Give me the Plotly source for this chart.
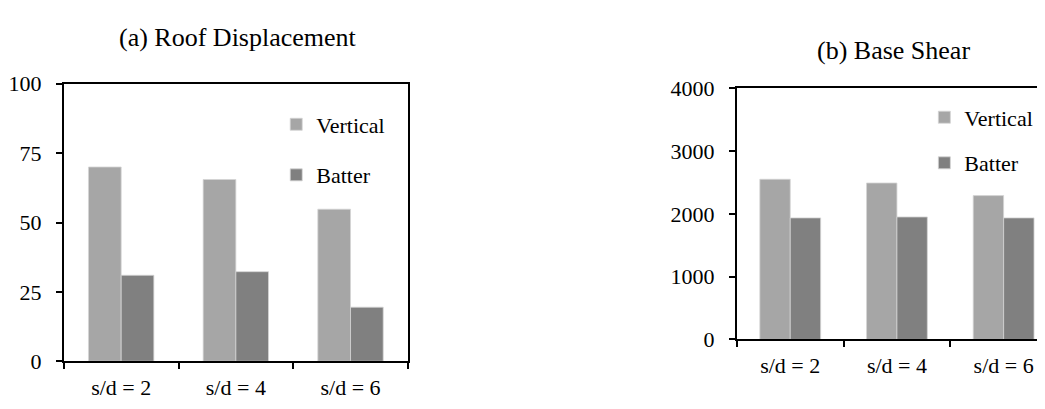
import plotly.graph_objects as go

categories = ["s/d = 2", "s/d = 4", "s/d = 6"]
roof_vertical = [70.0, 65.5, 54.8]
roof_batter = [31.0, 32.3, 19.5]
shear_vertical = [2550, 2490, 2290]
shear_batter = [1935, 1950, 1935]

series_names = ["Vertical", "Batter"]
colors = ["#a6a6a6", "#808080"]

# page body has an 8px default margin; size the figure so it fills the window exactly
OFF = 8
W, H = 1045 - OFF, 409 - OFF
FONT = "Times New Roman, Liberation Serif, serif"


def px_x(p):
    return (p - OFF) / W


def px_y(p):
    return 1 - (p - OFF) / H


fig = go.Figure()

for name, vals, col in zip(series_names, [roof_vertical, roof_batter], colors):
    fig.add_trace(go.Bar(x=categories, y=vals, name=name,
                         marker=dict(color=col, line=dict(color="#d4d4d4", width=0.8)),
                         xaxis="x", yaxis="y", legend="legend", legendgroup="a" + name))
for name, vals, col in zip(series_names, [shear_vertical, shear_batter], colors):
    fig.add_trace(go.Bar(x=categories, y=vals, name=name,
                         marker=dict(color=col, line=dict(color="#d4d4d4", width=0.8)),
                         xaxis="x2", yaxis="y2", legend="legend2", legendgroup="b" + name))

axis_common = dict(showline=True, linecolor="black", linewidth=2, ticks="outside", ticklen=6, tickwidth=2,
                   tickcolor="black", showgrid=False, zeroline=False,
                   tickfont=dict(family=FONT, size=22, color="black"))

fig.update_layout(
    width=W, height=H, margin=dict(l=0, r=0, t=0, b=0),
    paper_bgcolor="white", plot_bgcolor="white",
    barmode="group", bargap=0.43, bargroupgap=0,
    font=dict(family=FONT, size=22, color="black"),
    xaxis=dict(axis_common, type="category", tickson="boundaries", mirror=True, ticklabelstandoff=5,
               domain=[px_x(61), px_x(406)], anchor="y", range=[-0.5, 2.5]),
    yaxis=dict(axis_common, mirror=True, ticklabelstandoff=10, domain=[px_y(372), px_y(76)], anchor="x",
               range=[0, 100], tickvals=[0, 25, 50, 75, 100]),
    xaxis2=dict(axis_common, type="category", tickson="boundaries", mirror=True, ticklabelstandoff=5,
                domain=[px_x(736), 1.0], anchor="y2", range=[-0.5, -0.5 + (1045 - 736) / 107.0]),
    yaxis2=dict(axis_common, mirror=False, ticklabelstandoff=10, domain=[px_y(348.7), px_y(80.7)], anchor="x2",
                range=[0, 4000], tickvals=[0, 1000, 2000, 3000, 4000]),
    legend=dict(x=px_x(274), y=px_y(97), xanchor="left", yanchor="top", traceorder="grouped",
                tracegroupgap=19, bgcolor="rgba(0,0,0,0)", font=dict(family=FONT, size=22)),
    legend2=dict(x=px_x(924), y=px_y(89.5), xanchor="left", yanchor="top", traceorder="grouped",
                 tracegroupgap=14, bgcolor="rgba(0,0,0,0)", font=dict(family=FONT, size=22)),
    annotations=[
        dict(text="(a) Roof Displacement", x=px_x(236), y=px_y(27), xref="paper", yref="paper",
             xanchor="center", yanchor="middle", showarrow=False, font=dict(family=FONT, size=26)),
        dict(text="(b) Base Shear", x=px_x(893), y=px_y(40), xref="paper", yref="paper",
             xanchor="center", yanchor="middle", showarrow=False, font=dict(family=FONT, size=26)),
    ],
)

fig.write_html("out.html")
